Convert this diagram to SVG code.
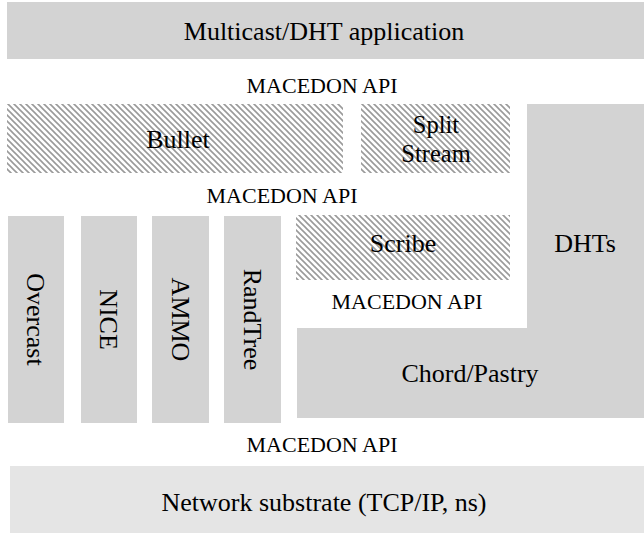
<svg xmlns="http://www.w3.org/2000/svg" width="644" height="533" viewBox="0 0 644 533">
<defs>
<pattern id="hatch" patternUnits="userSpaceOnUse" width="6" height="6">
<path d="M-1.5,-1.5 L7.5,7.5 M-1.5,4.5 L1.5,7.5 M4.5,-1.5 L7.5,1.5" stroke="#9a9a9a" stroke-width="1.6" fill="none"/>
</pattern>
</defs>
<style>
.solid{fill:#d3d3d3}
.light{fill:#e5e5e5}
.hatched{fill:url(#hatch)}
text{font-family:"Liberation Serif","Times New Roman",Times,serif;fill:#000;text-anchor:middle}
.lbl{font-size:26px}
.lbl2{font-size:24.5px}
.api{font-size:22px}
</style>
<rect width="644" height="533" fill="#fff"/>
<g id="app"><rect class="solid" x="7" y="2" width="637" height="57"/><text class="lbl" x="324" y="40">Multicast/DHT application</text></g>
<g id="bullet"><rect class="hatched" x="7" y="104" width="336" height="69"/><text class="lbl" x="178" y="148">Bullet</text></g>
<g id="splitstream"><rect class="hatched" x="361" y="104" width="149" height="69"/><text class="lbl2" x="436" y="133">Split</text><text class="lbl2" x="436" y="161.5">Stream</text></g>
<g id="dhts"><path class="solid" d="M527,104 H644 V418 H297 V328 H527 Z"/><text class="lbl" x="585" y="252">DHTs</text></g>
<g id="chordpastry"><text class="lbl" x="470" y="382">Chord/Pastry</text></g>
<g id="scribe"><rect class="hatched" x="296" y="215" width="214" height="65"/><text class="lbl" x="403" y="252">Scribe</text></g>
<g id="overcast"><rect class="solid" x="8" y="216" width="56" height="207"/><text class="lbl" transform="translate(36,319.5) rotate(90)" y="9">Overcast</text></g>
<g id="nice"><rect class="solid" x="81" y="216" width="56" height="207"/><text class="lbl" transform="translate(109,319.5) rotate(90)" y="9">NICE</text></g>
<g id="ammo"><rect class="solid" x="152" y="216" width="57" height="207"/><text class="lbl" transform="translate(180.5,319.5) rotate(90)" y="9">AMMO</text></g>
<g id="randtree"><rect class="solid" x="224" y="216" width="57" height="207"/><text class="lbl" transform="translate(252.5,319.5) rotate(90)" y="9">RandTree</text></g>
<g id="network"><rect class="light" x="10" y="466" width="634" height="67"/><text class="lbl" x="324" y="511">Network substrate (TCP/IP, ns)</text></g>
<g id="api-labels">
<text class="api" x="322" y="93">MACEDON API</text>
<text class="api" x="282" y="203">MACEDON API</text>
<text class="api" x="407" y="309">MACEDON API</text>
<text class="api" x="322" y="452">MACEDON API</text>
</g>
<g id="connectors"></g>
</svg>
